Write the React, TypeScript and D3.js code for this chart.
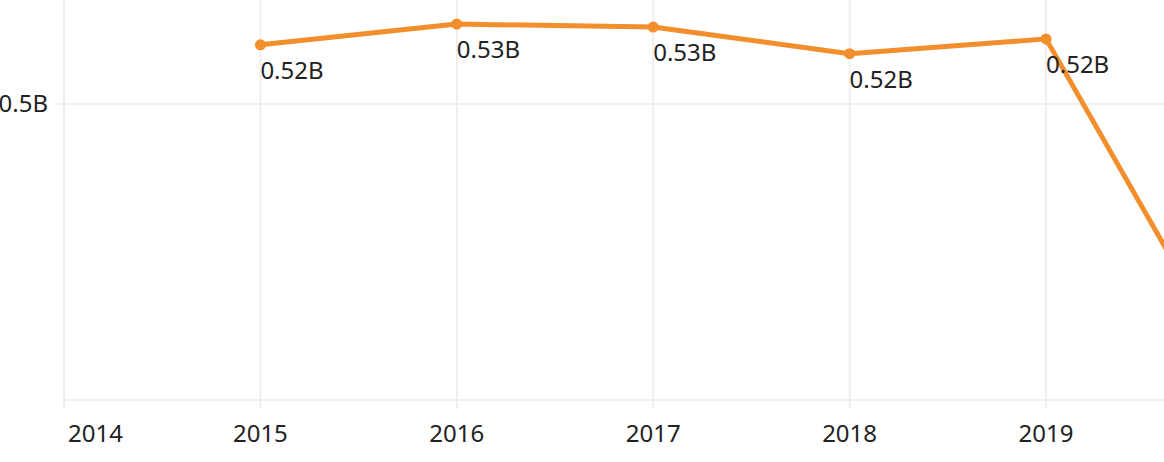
import React from "react";
import * as d3 from "d3";

const gridYears = [2014, 2015, 2016, 2017, 2018, 2019, 2020];
const tickYears = [2014, 2015, 2016, 2017, 2018, 2019];
const seriesYears = [2015, 2016, 2017, 2018, 2019, 2020];
const seriesValues = [0.52, 0.527, 0.526, 0.517, 0.522, 0.406]; // billions
const labels = ["0.52B", "0.53B", "0.53B", "0.52B", "0.52B", ""];
const yTicks = [0.4, 0.5];
const yTickLabels = ["", "0.5B"];

const W = 1164;
const H = 462;
const FONT = "'Noto Sans', 'Open Sans', sans-serif";
const ORANGE = "#F28E2B";
const GRID = "#efefef";
const FS = 24;

export default function App() {
  const x = d3.scaleLinear().domain([2014, 2019]).range([64, 1046]);
  const y = d3.scaleLinear().domain([0.4, 0.5]).range([400, 104]);
  const pts = seriesYears.map((yr, i) => [x(yr), y(seriesValues[i])] as [number, number]);
  const line = d3.line()(pts) || "";
  const plotBottom = y(0.4);

  return (
    <div style={{ position: "fixed", left: 0, top: 0 }}>
      <svg width={W} height={H} style={{ display: "block", background: "#fff" }}>
        {gridYears.map((yr) => (
          <line key={"v" + yr} x1={x(yr)} x2={x(yr)} y1={0} y2={plotBottom + 9} stroke={GRID} strokeWidth={2} />
        ))}
        {yTicks.map((t, i) => (
          <g key={"h" + t}>
            <line x1={i === 0 ? x(2014) : x(2014) - 10} x2={W} y1={y(t)} y2={y(t)} stroke={GRID} strokeWidth={2} />
            {yTickLabels[i] && (
              <text x={48} y={y(t)} dy="0.35em" textAnchor="end" fontFamily={FONT} fontSize={FS} fill="#222">
                {yTickLabels[i]}
              </text>
            )}
          </g>
        ))}
        {tickYears.map((yr, i) => (
          <text
            key={"t" + yr}
            x={i === 0 ? x(yr) + 4 : x(yr)}
            y={442}
            textAnchor={i === 0 ? "start" : "middle"}
            fontFamily={FONT}
            fontSize={FS}
            fill="#222"
          >
            {yr}
          </text>
        ))}
        <path d={line} fill="none" stroke={ORANGE} strokeWidth={5} strokeLinejoin="round" />
        {pts.map(([px, py], i) => (
          <g key={"p" + i}>
            <circle cx={px} cy={py} r={5.5} fill={ORANGE} />
            {labels[i] && (
              <text x={px} y={py + 34} fontFamily={FONT} fontSize={FS} fill="#222">
                {labels[i]}
              </text>
            )}
          </g>
        ))}
      </svg>
    </div>
  );
}
